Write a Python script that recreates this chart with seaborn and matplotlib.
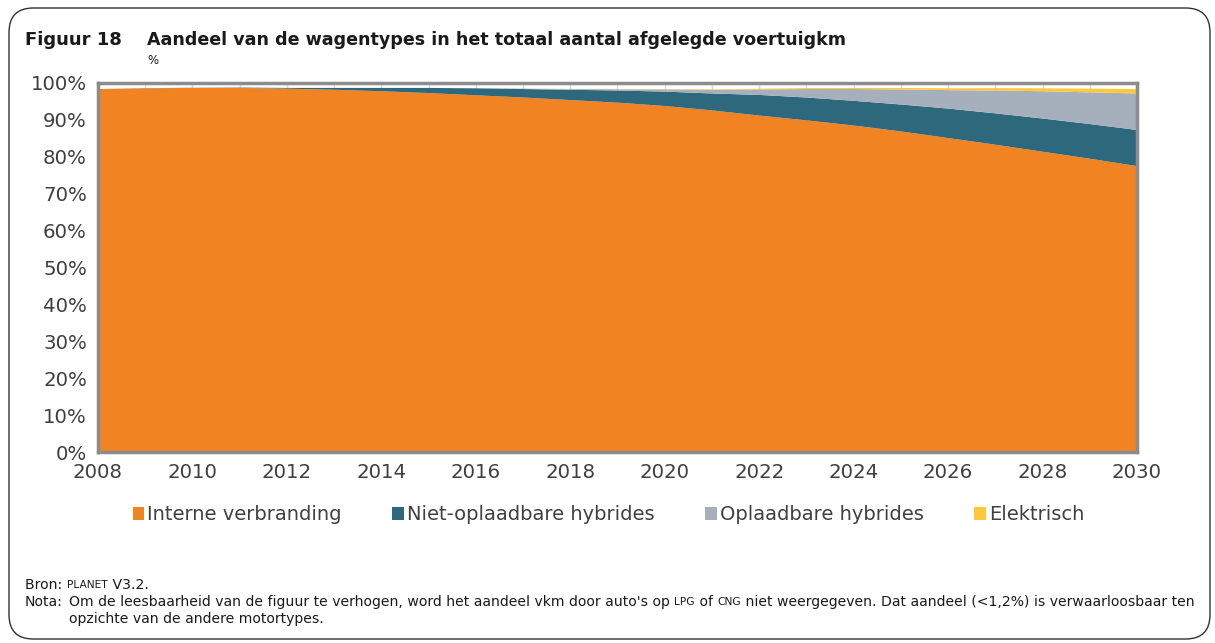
import numpy as np
import pandas as pd
import seaborn as sns
import matplotlib.pyplot as plt
from matplotlib.patches import FancyBboxPatch, Patch

years = list(range(2008, 2031))
interne_verbranding = [98.5, 98.7, 98.8, 98.8, 98.6, 98.3, 97.9, 97.4, 96.8, 96.2, 95.5, 94.8,
                       93.9, 92.7, 91.3, 90.0, 88.6, 87.0, 85.2, 83.4, 81.5, 79.6, 77.6]
niet_oplaadbare = [0.0, 0.05, 0.05, 0.1, 0.2, 0.5, 0.9, 1.4, 1.9, 2.3, 2.8, 3.3,
                   3.9, 4.6, 5.6, 6.2, 6.7, 7.3, 8.0, 8.5, 9.0, 9.4, 9.8]
oplaadbare = [0.0, 0.0, 0.0, 0.0, 0.0, 0.0, 0.0, 0.0, 0.05, 0.1, 0.2, 0.35,
              0.6, 1.0, 1.5, 2.3, 3.2, 4.1, 5.0, 6.2, 7.4, 8.6, 9.9]
elektrisch = [0.0, 0.0, 0.0, 0.0, 0.0, 0.0, 0.0, 0.0, 0.0, 0.02, 0.05, 0.08,
              0.1, 0.15, 0.2, 0.25, 0.3, 0.4, 0.5, 0.65, 0.8, 1.0, 1.2]
series_names = ["Interne verbranding", "Niet-oplaadbare hybrides", "Oplaadbare hybrides", "Elektrisch"]
colors = ["#F28322", "#2E687D", "#A6B0BC", "#FFC83A"]
y_ticks = list(range(0, 101, 10))
x_label_years = list(range(2008, 2031, 2))

df = pd.DataFrame({"jaar": years, series_names[0]: interne_verbranding,
                   series_names[1]: niet_oplaadbare, series_names[2]: oplaadbare,
                   series_names[3]: elektrisch})

sns.set_theme(style="white")
plt.rcParams['font.family'] = ['DejaVu Sans']
sns.set_palette(colors)

W, H = 1215, 643
fig = plt.figure(figsize=(W / 100, H / 100), dpi=100)
ax = fig.add_axes([98 / W, 1 - 452 / H, (1137 - 98) / W, (452 - 83) / H])

ax.stackplot(df["jaar"], *[df[n] for n in series_names], colors=colors,
             labels=series_names, linewidth=0, zorder=2)

ax.set_xlim(2008, 2030)
ax.set_ylim(0, 100)
ax.set_xticks(x_label_years)
ax.set_xticks(years, minor=True)
ax.set_yticks(y_ticks)
ax.set_yticklabels([f"{v}%" for v in y_ticks])
ax.grid(False)
for yr in years:
    ax.axvline(yr, color="#d9d9d9", lw=1, zorder=1)
for s in ax.spines.values():
    s.set_color("#8c8c8c")
    s.set_linewidth(2.5)
    s.set_visible(True)
ax.tick_params(axis="both", which="both", direction="out", color="#8c8c8c", width=2,
               labelcolor="#404040", labelsize=14.2)
ax.tick_params(axis="x", which="both", length=6, pad=2)
ax.tick_params(axis="y", length=6, pad=2)
ax.set_xlabel("")
ax.set_ylabel("")

# title
fig.text(25 / W, 1 - 40 / H, "Figuur 18", fontsize=13, fontweight="bold", va="center", color="#1a1a1a")
fig.text(147 / W, 1 - 40 / H, "Aandeel van de wagentypes in het totaal aantal afgelegde voertuigkm",
         fontsize=12.6, fontweight="bold", va="center", color="#1a1a1a")
fig.text(147 / W, 1 - 60 / H, "%", fontsize=8.5, va="center", color="#1a1a1a")

# legend
handles = [Patch(facecolor=c, edgecolor="none") for c in colors]
fig.legend(handles, series_names, loc="center left", bbox_to_anchor=(125 / W, 1 - 515 / H),
           ncol=4, frameon=False, fontsize=14, handlelength=0.6, handleheight=0.6,
           handletextpad=0.15, columnspacing=2.6, labelcolor="#404040", borderaxespad=0)

# footnotes (small caps words rendered smaller)
renderer = fig.canvas.get_renderer()


def write_run(x_px, y_px, parts):
    x = x_px
    for txt, size in parts:
        t = fig.text(x / W, 1 - y_px / H, txt, fontsize=size, va="center", color="#1a1a1a")
        bb = t.get_window_extent(renderer=renderer)
        x += bb.width


fs = 10.1
sc = 7.7
write_run(25, 585, [("Bron: ", fs), ("PLANET", sc), (" V3.2.", fs)])
fig.text(25 / W, 1 - 602 / H, "Nota:", fontsize=fs, va="center", color="#1a1a1a")
write_run(69, 602, [("Om de leesbaarheid van de figuur te verhogen, word het aandeel vkm door auto's op ", fs),
                    ("LPG", sc), (" of ", fs), ("CNG", sc),
                    (" niet weergegeven. Dat aandeel (<1,2%) is verwaarloosbaar ten", fs)])
fig.text(69 / W, 1 - 619 / H, "opzichte van de andere motortypes.", fontsize=fs, va="center", color="#1a1a1a")

# rounded border
border = FancyBboxPatch((9 / W, 4 / H), (1210 - 9) / W, (635 - 4) / H,
                        boxstyle="round,pad=0,rounding_size=0.02", transform=fig.transFigure,
                        fill=False, edgecolor="#333333", linewidth=1, mutation_aspect=W / H)
fig.add_artist(border)

fig.savefig("out.png", dpi=100)
